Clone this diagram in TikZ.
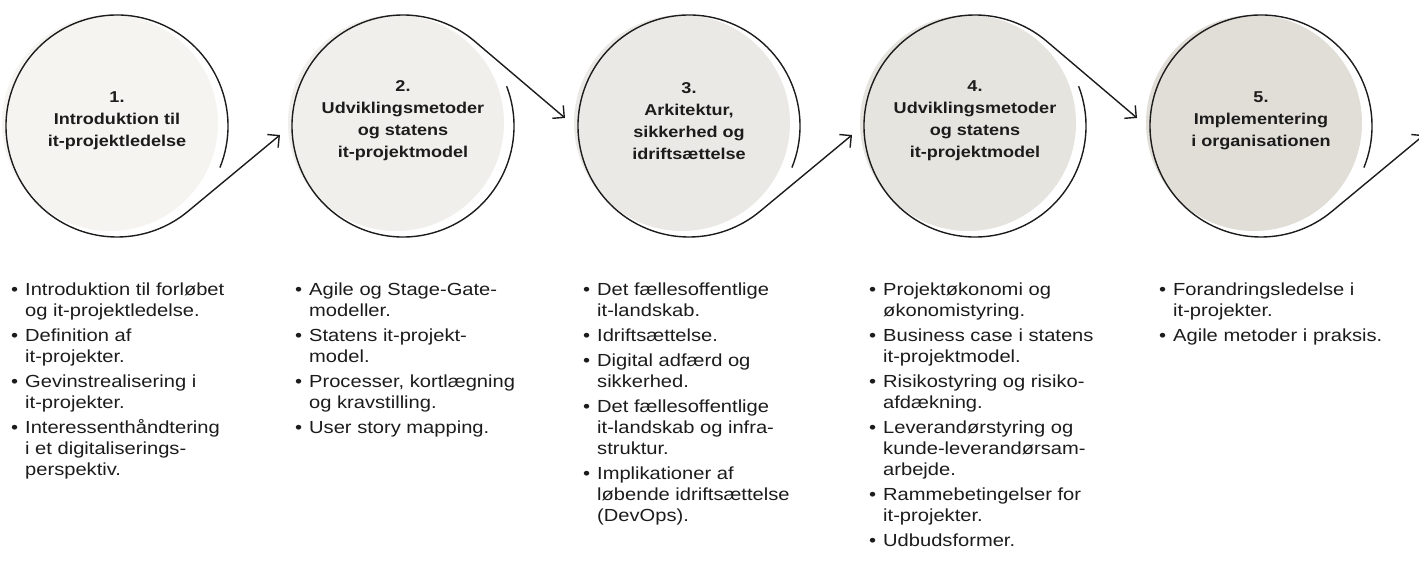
\documentclass[tikz,border=0pt]{standalone}
\usepackage{fontspec}
\setmainfont{Liberation Sans}[FakeStretch=1.15]
\usetikzlibrary{arrows.meta,calc}
\definecolor{ink}{HTML}{1C1C1C}
\definecolor{f1}{HTML}{F5F4F1}
\definecolor{f2}{HTML}{F0EFEB}
\definecolor{f3}{HTML}{EBE9E5}
\definecolor{f4}{HTML}{E6E4DF}
\definecolor{f5}{HTML}{E1DED8}
\newcommand{\bul}{\llap{\textbullet\hspace{7pt}}}
\begin{document}
\begin{tikzpicture}[x=1pt,y=1pt,
  disc/.style={circle, minimum size=216pt, inner sep=0pt, draw=none},
  outl/.style={draw=ink, line width=1.4pt, -{Straight Barb[angle=90:12pt, line width=1.4pt]}},
  title/.style={align=center, text=ink, inner sep=0pt, font=\bfseries\fontsize{15.7}{22}\selectfont},
  listbox/.style={align=left, anchor=north west, text=ink, inner sep=0pt, font=\fontsize{17.5}{20.8}\selectfont}]
\useasboundingbox (0,0) rectangle (1419,563);
\fill[white] (0,0) rectangle (1419,563);
% outline centres
\coordinate (o1) at (117,437);
\coordinate (o2) at (403,437);
\coordinate (o3) at (689,437);
\coordinate (o4) at (975,437);
\coordinate (o5) at (1261,437);
\coordinate (o6) at (1547,437);
% filled discs
\node[disc, fill=f1] (c1) at ($(o1)+(-7,3)$) {};
\node[disc, fill=f2] (c2) at ($(o2)+(-7,3)$) {};
\node[disc, fill=f3] (c3) at ($(o3)+(-7,3)$) {};
\node[disc, fill=f4] (c4) at ($(o4)+(-7,3)$) {};
\node[disc, fill=f5] (c5) at ($(o5)+(-7,3)$) {};
% arrow tips
\coordinate (in2) at ($(o2)+(-123,-9)$);
\coordinate (in3) at ($(o3)+(-124,8)$);
\coordinate (in4) at ($(o4)+(-123,-9)$);
\coordinate (in5) at ($(o5)+(-124,8)$);
\coordinate (in6) at ($(o6)+(-123,-9)$);
% outlines with connectors
\draw[outl] ($(o1)+(-22:111)$) arc[start angle=-22, end angle=309, radius=111] -- (in2);
\draw[outl] ($(o2)+(21:111)$) arc[start angle=21, end angle=-309, radius=111] -- (in3);
\draw[outl] ($(o3)+(-22:111)$) arc[start angle=-22, end angle=309, radius=111] -- (in4);
\draw[outl] ($(o4)+(21:111)$) arc[start angle=21, end angle=-309, radius=111] -- (in5);
\draw[outl] ($(o5)+(-22:111)$) arc[start angle=-22, end angle=309, radius=111] -- (in6);
% titles
\node[title] (t1) at (117,442) {1.\\Introduktion til\\it-projektledelse};
\node[title] (t2) at (403,442) {2.\\Udviklingsmetoder\\og statens\\it-projektmodel};
\node[title] (t3) at (689,442) {3.\\Arkitektur,\\sikkerhed og\\idriftsættelse};
\node[title] (t4) at (975,442) {4.\\Udviklingsmetoder\\og statens\\it-projektmodel};
\node[title] (t5) at (1261,442) {5.\\Implementering\\i organisationen};
% lists
\node[listbox] (l1) at (25,280.5) {\bul Introduktion til forløbet\\og it-projektledelse.\\[4.5pt]
\bul Definition af\\it-projekter.\\[4.5pt]
\bul Gevinstrealisering i\\it-projekter.\\[4.5pt]
\bul Interessenthåndtering\\i et digitaliserings-\\perspektiv.};
\node[listbox] (l2) at (309,280.5) {\bul Agile og Stage-Gate-\\modeller.\\[4.5pt]
\bul Statens it-projekt-\\model.\\[4.5pt]
\bul Processer, kortlægning\\og kravstilling.\\[4.5pt]
\bul User story mapping.};
\node[listbox] (l3) at (597,280.5) {\bul Det fællesoffentlige\\it-landskab.\\[4.5pt]
\bul Idriftsættelse.\\[4.5pt]
\bul Digital adfærd og\\sikkerhed.\\[4.5pt]
\bul Det fællesoffentlige\\it-landskab og infra-\\struktur.\\[4.5pt]
\bul Implikationer af\\løbende idriftsættelse\\(DevOps).};
\node[listbox] (l4) at (883,280.5) {\bul Projektøkonomi og\\økonomistyring.\\[4.5pt]
\bul Business case i statens\\it-projektmodel.\\[4.5pt]
\bul Risikostyring og risiko-\\afdækning.\\[4.5pt]
\bul Leverandørstyring og\\kunde-leverandørsam-\\arbejde.\\[4.5pt]
\bul Rammebetingelser for\\it-projekter.\\[4.5pt]
\bul Udbudsformer.};
\node[listbox] (l5) at (1173,280.5) {\bul Forandringsledelse i\\it-projekter.\\[4.5pt]
\bul Agile metoder i praksis.};
\end{tikzpicture}
\end{document}
